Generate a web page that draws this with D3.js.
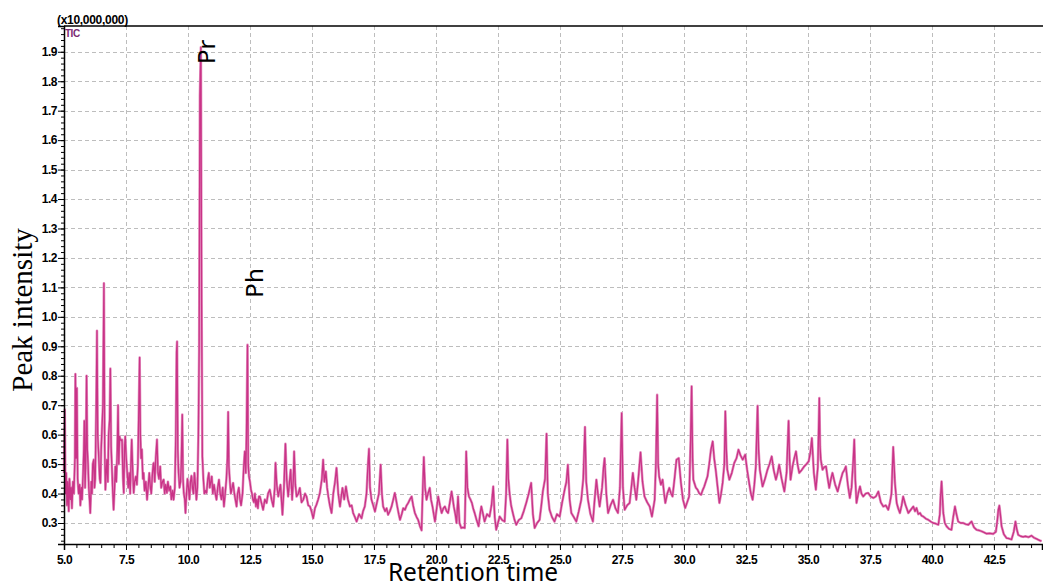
<!DOCTYPE html>
<html>
<head>
<meta charset="utf-8">
<script src="https://cdn.jsdelivr.net/npm/d3@7"></script>
<style>
  html, body { margin: 0; padding: 0; background: #fff; }
  svg { display: block; }
  .tick text { font-family: "Liberation Sans", Arial, sans-serif; font-weight: bold; font-size: 12px; fill: #000; letter-spacing: -0.5px; }
</style>
</head>
<body>
<div id="chart"></div>
<script>
// GC-MS total ion chromatogram (TIC), intensity in units of 10,000,000

// tick values
const xMajorTicks = [5.0, 7.5, 10.0, 12.5, 15.0, 17.5, 20.0, 22.5, 25.0, 27.5, 30.0, 32.5, 35.0, 37.5, 40.0, 42.5];
const yMajorTicks = [0.3, 0.4, 0.5, 0.6, 0.7, 0.8, 0.9, 1.0, 1.1, 1.2, 1.3, 1.4, 1.5, 1.6, 1.7, 1.8, 1.9];
const xMinorTicks = d3.range(5.5, 44.4, 0.5);
const yMinorTicks = d3.range(0.24, 1.99, 0.02);

// labelled peaks: [label, baseline retention time, label centre intensity]
const peakLabels = [
    ['Pr', 11.08, 1.90],
    ['Ph', 13.04, 1.115]
];

// [retention time (min), intensity (x10,000,000)]
const ticTrace = [
    [5.00, 0.47], [5.03, 0.685], [5.06, 0.40], [5.09, 0.47], [5.12, 0.36], [5.15, 0.44], [5.19, 0.34],
    [5.22, 0.45], [5.26, 0.38], [5.29, 0.42], [5.32, 0.35], [5.36, 0.44], [5.40, 0.40], [5.44, 0.52],
    [5.46, 0.806], [5.49, 0.52], [5.52, 0.758], [5.55, 0.45], [5.59, 0.40], [5.63, 0.43], [5.66, 0.36],
    [5.70, 0.42], [5.73, 0.38], [5.77, 0.47], [5.80, 0.55], [5.82, 0.647], [5.85, 0.42], [5.88, 0.52],
    [5.91, 0.80], [5.94, 0.55], [5.97, 0.50], [6.00, 0.42], [6.03, 0.38], [6.06, 0.334], [6.10, 0.44],
    [6.13, 0.40], [6.16, 0.50], [6.20, 0.515], [6.23, 0.42], [6.26, 0.45], [6.30, 0.70], [6.33, 0.953],
    [6.36, 0.60], [6.40, 0.526], [6.44, 0.45], [6.47, 0.436], [6.50, 0.55], [6.53, 0.617], [6.57, 0.70],
    [6.61, 1.114], [6.64, 0.56], [6.67, 0.413], [6.70, 0.47], [6.73, 0.515], [6.77, 0.44], [6.80, 0.60],
    [6.84, 0.65], [6.87, 0.824], [6.90, 0.56], [6.94, 0.47], [6.97, 0.40], [7.00, 0.345], [7.04, 0.42],
    [7.07, 0.492], [7.11, 0.44], [7.15, 0.55], [7.18, 0.70], [7.21, 0.50], [7.24, 0.594], [7.27, 0.583],
    [7.31, 0.58], [7.34, 0.583], [7.38, 0.45], [7.41, 0.402], [7.44, 0.55], [7.47, 0.594], [7.51, 0.52],
    [7.55, 0.47], [7.59, 0.42], [7.63, 0.47], [7.67, 0.40], [7.70, 0.50], [7.73, 0.583], [7.77, 0.48],
    [7.81, 0.402], [7.85, 0.44], [7.90, 0.458], [7.94, 0.43], [7.98, 0.50], [8.01, 0.65], [8.05, 0.862],
    [8.08, 0.60], [8.11, 0.52], [8.14, 0.55], [8.18, 0.45], [8.21, 0.47], [8.25, 0.41], [8.30, 0.44],
    [8.35, 0.379], [8.40, 0.43], [8.44, 0.47], [8.48, 0.424], [8.52, 0.40], [8.56, 0.46], [8.60, 0.50],
    [8.62, 0.504], [8.66, 0.44], [8.70, 0.52], [8.75, 0.583], [8.79, 0.47], [8.83, 0.45], [8.88, 0.492],
    [8.92, 0.42], [8.97, 0.44], [9.02, 0.447], [9.06, 0.40], [9.10, 0.43], [9.15, 0.402], [9.19, 0.44],
    [9.24, 0.41], [9.29, 0.424], [9.33, 0.38], [9.38, 0.41], [9.42, 0.379], [9.47, 0.42], [9.51, 0.60],
    [9.54, 0.88], [9.56, 0.916], [9.59, 0.55], [9.62, 0.47], [9.66, 0.42], [9.70, 0.44], [9.73, 0.50],
    [9.77, 0.668], [9.80, 0.45], [9.83, 0.402], [9.87, 0.38], [9.90, 0.334], [9.94, 0.40], [9.98, 0.45],
    [10.02, 0.42], [10.06, 0.38], [10.10, 0.44], [10.14, 0.46], [10.18, 0.42], [10.22, 0.40], [10.26, 0.47],
    [10.30, 0.43], [10.34, 0.379], [10.38, 0.42], [10.42, 0.60], [10.45, 0.888], [10.48, 1.75], [10.52, 1.915],
    [10.55, 1.04], [10.58, 0.526], [10.62, 0.45], [10.66, 0.40], [10.70, 0.41], [10.75, 0.402], [10.80, 0.45],
    [10.84, 0.47], [10.88, 0.42], [10.92, 0.44], [10.96, 0.458], [11.00, 0.40], [11.05, 0.43], [11.10, 0.40],
    [11.15, 0.379], [11.20, 0.42], [11.25, 0.447], [11.30, 0.40], [11.35, 0.38], [11.40, 0.42], [11.45, 0.356],
    [11.50, 0.40], [11.55, 0.45], [11.59, 0.52], [11.62, 0.677], [11.65, 0.492], [11.69, 0.44], [11.73, 0.40],
    [11.78, 0.42], [11.82, 0.436], [11.87, 0.40], [11.91, 0.38], [11.96, 0.356], [12.00, 0.40], [12.05, 0.42],
    [12.10, 0.38], [12.14, 0.36], [12.20, 0.40], [12.25, 0.492], [12.29, 0.543], [12.33, 0.47], [12.36, 0.60],
    [12.40, 0.905], [12.43, 0.50], [12.46, 0.458], [12.50, 0.44], [12.54, 0.413], [12.58, 0.40], [12.62, 0.379],
    [12.66, 0.37], [12.70, 0.40], [12.74, 0.356], [12.78, 0.38], [12.82, 0.35], [12.86, 0.39],
    [12.90, 0.39], [13.03, 0.345], [13.10, 0.38], [13.17, 0.368], [13.23, 0.40], [13.30, 0.413], [13.37, 0.38],
    [13.44, 0.356], [13.50, 0.42], [13.53, 0.504], [13.58, 0.43], [13.64, 0.39], [13.73, 0.43], [13.81, 0.328],
    [13.87, 0.42], [13.93, 0.569], [13.98, 0.45], [14.04, 0.39], [14.14, 0.481], [14.20, 0.379], [14.25, 0.45],
    [14.28, 0.543], [14.33, 0.43], [14.38, 0.39], [14.45, 0.40], [14.51, 0.419], [14.58, 0.37], [14.65, 0.379],
    [14.72, 0.40], [14.78, 0.39], [14.85, 0.36], [14.92, 0.356], [14.98, 0.34], [15.05, 0.316], [15.12, 0.35],
    [15.18, 0.362], [15.25, 0.38], [15.32, 0.402], [15.40, 0.45], [15.45, 0.515], [15.50, 0.44], [15.56, 0.475],
    [15.61, 0.42], [15.66, 0.39], [15.72, 0.36], [15.79, 0.334], [15.86, 0.40], [15.93, 0.44], [15.99, 0.487],
    [16.06, 0.40], [16.13, 0.356], [16.18, 0.39], [16.23, 0.419], [16.30, 0.38], [16.37, 0.424], [16.45, 0.38],
    [16.53, 0.356], [16.60, 0.36], [16.66, 0.334], [16.73, 0.32], [16.80, 0.305], [16.90, 0.33], [17.00, 0.316],
    [17.06, 0.34], [17.13, 0.356], [17.20, 0.40], [17.26, 0.50], [17.30, 0.552], [17.34, 0.42], [17.40, 0.379],
    [17.47, 0.36], [17.54, 0.339], [17.62, 0.37], [17.70, 0.40], [17.77, 0.498], [17.82, 0.40], [17.87, 0.356],
    [17.95, 0.34], [18.01, 0.35], [18.07, 0.328], [18.14, 0.34], [18.21, 0.356], [18.28, 0.38], [18.34, 0.402],
    [18.39, 0.38], [18.44, 0.356], [18.50, 0.33], [18.55, 0.311], [18.62, 0.33], [18.68, 0.35], [18.75, 0.345],
    [18.82, 0.36], [18.88, 0.368], [18.95, 0.38], [19.02, 0.39], [19.08, 0.36], [19.15, 0.334], [19.22, 0.32],
    [19.28, 0.311], [19.35, 0.29], [19.42, 0.275], [19.47, 0.42], [19.51, 0.524], [19.56, 0.42], [19.62, 0.379],
    [19.68, 0.40], [19.75, 0.419], [19.80, 0.38], [19.86, 0.356], [19.91, 0.33], [19.96, 0.305], [20.03, 0.35],
    [20.09, 0.39], [20.16, 0.36], [20.23, 0.334], [20.30, 0.35], [20.36, 0.356], [20.43, 0.34], [20.49, 0.334],
    [20.56, 0.37], [20.63, 0.407], [20.68, 0.38], [20.72, 0.356], [20.78, 0.33], [20.83, 0.30],
    [20.89, 0.39], [20.95, 0.30], [21.02, 0.283], [21.09, 0.285], [21.16, 0.283], [21.19, 0.40], [21.22, 0.543],
    [21.27, 0.42], [21.33, 0.39], [21.39, 0.38], [21.45, 0.368], [21.50, 0.35], [21.56, 0.334], [21.64, 0.31],
    [21.72, 0.289], [21.78, 0.33], [21.83, 0.356], [21.90, 0.33], [21.96, 0.305], [22.06, 0.33], [22.16, 0.322],
    [22.24, 0.36], [22.31, 0.424], [22.37, 0.32], [22.43, 0.277], [22.50, 0.30], [22.57, 0.322], [22.67, 0.31],
    [22.77, 0.305], [22.83, 0.40], [22.88, 0.583], [22.92, 0.45], [22.97, 0.40], [23.03, 0.36], [23.10, 0.334],
    [23.17, 0.31], [23.24, 0.294], [23.34, 0.31], [23.44, 0.316], [23.54, 0.34], [23.64, 0.368], [23.74, 0.40],
    [23.84, 0.436], [23.91, 0.33], [23.98, 0.283], [24.08, 0.30], [24.18, 0.311], [24.25, 0.36], [24.31, 0.407],
    [24.40, 0.45], [24.46, 0.603], [24.51, 0.40], [24.58, 0.345], [24.68, 0.32], [24.78, 0.305], [24.88, 0.33],
    [24.99, 0.322], [25.09, 0.37], [25.19, 0.413], [25.26, 0.44], [25.32, 0.498], [25.39, 0.38], [25.46, 0.334],
    [25.56, 0.32], [25.66, 0.305], [25.76, 0.34], [25.86, 0.379], [25.94, 0.45], [26.01, 0.626], [26.06, 0.44],
    [26.13, 0.379], [26.23, 0.33], [26.33, 0.305], [26.40, 0.38], [26.47, 0.447], [26.53, 0.40], [26.60, 0.356],
    [26.70, 0.42], [26.76, 0.49], [26.80, 0.52], [26.87, 0.40], [26.94, 0.334], [27.04, 0.36], [27.14, 0.379],
    [27.24, 0.35], [27.34, 0.334], [27.42, 0.42], [27.49, 0.673], [27.54, 0.42], [27.61, 0.345], [27.71, 0.36],
    [27.81, 0.368], [27.88, 0.42], [27.94, 0.47], [28.01, 0.42], [28.08, 0.379], [28.16, 0.45], [28.25, 0.54],
    [28.33, 0.44], [28.41, 0.39], [28.52, 0.37], [28.62, 0.356], [28.71, 0.322], [28.82, 0.379], [28.87, 0.50],
    [28.92, 0.735], [28.96, 0.50], [29.00, 0.458], [29.07, 0.43], [29.14, 0.447], [29.20, 0.40], [29.25, 0.368],
    [29.33, 0.40], [29.41, 0.419], [29.48, 0.40], [29.54, 0.39], [29.62, 0.45], [29.70, 0.515], [29.79, 0.52],
    [29.88, 0.436], [29.96, 0.38], [30.05, 0.351], [30.13, 0.37], [30.21, 0.39], [30.27, 0.58], [30.31, 0.764],
    [30.35, 0.52], [30.38, 0.447], [30.42, 0.436], [30.48, 0.42], [30.55, 0.413], [30.62, 0.40], [30.69, 0.396],
    [30.75, 0.41], [30.82, 0.424], [30.88, 0.44], [30.95, 0.458], [31.02, 0.50], [31.09, 0.549], [31.16, 0.577],
    [31.22, 0.52], [31.29, 0.475], [31.36, 0.42], [31.43, 0.368], [31.50, 0.40], [31.56, 0.436], [31.63, 0.50],
    [31.67, 0.679], [31.71, 0.55], [31.75, 0.481], [31.83, 0.447], [31.93, 0.47], [32.03, 0.504], [32.12, 0.52],
    [32.20, 0.549], [32.28, 0.53], [32.37, 0.515], [32.47, 0.532], [32.55, 0.48], [32.63, 0.436], [32.70, 0.40],
    [32.77, 0.379], [32.84, 0.43], [32.90, 0.492], [32.97, 0.698], [33.01, 0.55], [33.06, 0.481], [33.12, 0.45],
    [33.17, 0.424], [33.27, 0.45], [33.37, 0.481], [33.45, 0.50], [33.54, 0.526], [33.62, 0.48], [33.71, 0.447],
    [33.78, 0.47], [33.84, 0.498], [33.94, 0.45], [34.05, 0.407], [34.14, 0.47], [34.22, 0.647], [34.26, 0.52],
    [34.30, 0.447], [34.38, 0.492], [34.45, 0.52], [34.52, 0.543], [34.58, 0.50], [34.65, 0.47], [34.75, 0.48],
    [34.85, 0.492], [34.94, 0.50], [35.03, 0.509], [35.10, 0.54], [35.16, 0.588], [35.24, 0.47], [35.32, 0.413],
    [35.40, 0.49], [35.46, 0.724], [35.49, 0.56], [35.52, 0.515], [35.59, 0.481], [35.66, 0.49], [35.73, 0.492],
    [35.80, 0.45], [35.86, 0.419], [35.93, 0.45], [35.99, 0.47], [36.10, 0.43], [36.20, 0.407], [36.30, 0.44],
    [36.40, 0.47], [36.47, 0.48], [36.53, 0.492], [36.61, 0.43], [36.69, 0.385], [36.76, 0.42], [36.83, 0.515],
    [36.87, 0.583], [36.91, 0.45], [36.96, 0.368], [37.03, 0.40], [37.10, 0.424], [37.16, 0.40], [37.23, 0.39],
    [37.33, 0.40], [37.43, 0.402], [37.53, 0.39], [37.64, 0.385], [37.74, 0.39], [37.84, 0.407], [37.94, 0.37],
    [38.04, 0.356], [38.14, 0.36], [38.24, 0.345], [38.31, 0.37], [38.37, 0.40], [38.44, 0.558], [38.51, 0.436],
    [38.58, 0.368], [38.64, 0.35], [38.71, 0.334], [38.78, 0.36], [38.84, 0.39], [38.94, 0.36], [39.05, 0.334],
    [39.15, 0.345], [39.25, 0.356], [39.32, 0.34], [39.38, 0.351], [39.45, 0.33], [39.52, 0.334], [39.58, 0.325],
    [39.65, 0.322], [39.75, 0.315], [39.85, 0.311], [39.95, 0.305], [40.05, 0.30], [40.15, 0.298], [40.26, 0.294],
    [40.32, 0.33], [40.35, 0.39], [40.39, 0.441], [40.43, 0.38], [40.46, 0.334], [40.52, 0.30], [40.59, 0.289],
    [40.69, 0.28], [40.79, 0.277], [40.86, 0.32], [40.93, 0.356], [40.99, 0.33], [41.06, 0.305], [41.16, 0.30],
    [41.26, 0.30], [41.36, 0.296], [41.47, 0.294], [41.54, 0.30], [41.60, 0.305], [41.70, 0.285], [41.80, 0.277],
    [41.90, 0.275], [42.00, 0.272], [42.10, 0.268], [42.20, 0.264], [42.33, 0.265], [42.47, 0.263], [42.58, 0.27],
    [42.64, 0.31], [42.68, 0.345], [42.72, 0.359], [42.76, 0.33], [42.81, 0.289], [42.90, 0.262], [43.01, 0.249],
    [43.11, 0.247], [43.21, 0.244], [43.30, 0.27], [43.37, 0.305], [43.42, 0.28], [43.48, 0.26], [43.58, 0.255],
    [43.68, 0.253], [43.78, 0.255], [43.90, 0.252], [44.02, 0.257], [44.12, 0.25], [44.22, 0.246], [44.32, 0.242],
    [44.42, 0.238]
];

// Layout
const width = 1043;
const height = 585;
const plot = { left: 64, top: 26, right: 1042, bottom: 544 };

const svg = d3.select('#chart')
    .append('svg')
    .attr('width', width)
    .attr('height', height);

const x = d3.scaleLinear().domain([5.0, 44.44]).range([plot.left, plot.right]);
const y = d3.scaleLinear().domain([0.2287, 1.9875]).range([plot.bottom, plot.top]);

// Dashed grid
const grid = svg.append('g')
    .attr('stroke', '#bdbdbd')
    .attr('stroke-width', 1)
    .attr('stroke-dasharray', '4,3');

grid.selectAll('line.gx')
    .data(xMajorTicks.slice(1))
    .enter().append('line')
    .attr('x1', d => Math.round(x(d)) + 0.5)
    .attr('x2', d => Math.round(x(d)) + 0.5)
    .attr('y1', plot.top)
    .attr('y2', plot.bottom);

grid.selectAll('line.gy')
    .data(yMajorTicks)
    .enter().append('line')
    .attr('x1', plot.left)
    .attr('x2', plot.right)
    .attr('y1', d => Math.round(y(d)) + 0.5)
    .attr('y2', d => Math.round(y(d)) + 0.5);

// Trace: light halo under a darker core, like the instrument print-out
const line = d3.line()
    .x(d => x(d[0]))
    .y(d => y(d[1]));

svg.append('path')
    .datum(ticTrace)
    .attr('fill', 'none')
    .attr('stroke', '#e595c2')
    .attr('stroke-width', 2.6)
    .attr('stroke-linejoin', 'round')
    .attr('d', line);

svg.append('path')
    .datum(ticTrace)
    .attr('fill', 'none')
    .attr('stroke', '#c93387')
    .attr('stroke-width', 1.3)
    .attr('stroke-linejoin', 'round')
    .attr('d', line);

// Axes
const fmt = d3.format('.1f');

svg.append('g')
    .attr('transform', `translate(0,${plot.bottom})`)
    .call(d3.axisBottom(x).tickValues(xMajorTicks).tickFormat(fmt).tickSize(6).tickPadding(5));

svg.append('g')
    .attr('transform', `translate(0,${plot.bottom})`)
    .call(d3.axisBottom(x).tickValues(xMinorTicks).tickFormat('').tickSize(4))
    .select('.domain').remove();

svg.append('g')
    .attr('transform', `translate(${plot.left},0)`)
    .call(d3.axisLeft(y).tickValues(yMajorTicks).tickFormat(fmt).tickSize(6).tickPadding(1));

svg.append('g')
    .attr('transform', `translate(${plot.left},0)`)
    .call(d3.axisLeft(y).tickValues(yMinorTicks).tickFormat('').tickSize(3))
    .select('.domain').remove();

svg.selectAll('.domain').attr('stroke', '#000').attr('stroke-width', 1.5);
svg.selectAll('.tick line').attr('stroke', '#000');

// top frame line
svg.append('line')
    .attr('x1', plot.left).attr('x2', width)
    .attr('y1', plot.top).attr('y2', plot.top)
    .attr('stroke', '#000')
    .attr('stroke-width', 1.5);

// Scale factor and TIC label
svg.append('text')
    .attr('x', 57).attr('y', 24)
    .style('font-family', '"Liberation Sans", Arial, sans-serif')
    .style('font-weight', 'bold')
    .style('font-size', '12px')
    .style('letter-spacing', '-0.3px')
    .text('(x10,000,000)');

svg.append('text')
    .attr('x', 65).attr('y', 37)
    .style('font-family', '"Liberation Sans", Arial, sans-serif')
    .style('font-weight', 'bold')
    .style('font-size', '10px')
    .style('letter-spacing', '-0.5px')
    .attr('fill', '#7b2a72')
    .text('TIC');

// Peak labels
svg.selectAll('text.peak')
    .data(peakLabels)
    .enter().append('text')
    .attr('class', 'peak')
    .attr('transform', d => `translate(${x(d[1])},${y(d[2])}) rotate(-90)`)
    .attr('text-anchor', 'middle')
    .style('font-family', '"Noto Sans", "Open Sans", sans-serif')
    .style('font-size', '24px')
    .attr('fill', '#000')
    .text(d => d[0]);

// Axis titles
svg.append('text')
    .attr('transform', 'translate(32,310) rotate(-90)')
    .attr('text-anchor', 'middle')
    .style('font-family', '"Liberation Serif", "Times New Roman", serif')
    .style('font-size', '29px')
    .attr('fill', '#000')
    .text('Peak intensity');

svg.append('text')
    .attr('x', 473).attr('y', 581)
    .attr('text-anchor', 'middle')
    .style('font-family', '"Noto Sans", "Open Sans", sans-serif')
    .style('font-size', '24.5px')
    .attr('fill', '#000')
    .text('Retention time');
</script>
</body>
</html>
